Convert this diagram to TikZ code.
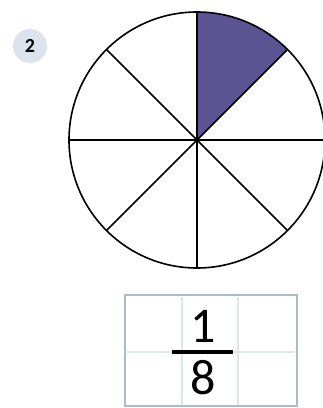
\documentclass[tikz,border=0pt]{standalone}
\usepackage{fontspec}
\setmainfont{Carlito}
\definecolor{sectorcol}{HTML}{5A5592}
\definecolor{badgecol}{HTML}{DCE3EE}
\definecolor{boxedge}{HTML}{A8BCCB}
\definecolor{gridl}{HTML}{DDE6EA}
\tikzset{
  spoke/.style={line width=1.6pt, black},
  rim/.style={line width=1.6pt, black},
  bigdigit/.style={inner sep=0pt, font=\fontsize{50}{50}\selectfont},
}
\begin{document}
\begin{tikzpicture}[x=1pt,y=-1pt]
\useasboundingbox (0,0) rectangle (323,408);
% badge
\node[circle, fill=badgecol, minimum size=34pt, inner sep=0pt, font=\bfseries\fontsize{20}{20}\selectfont] (badge) at (30,46) {2};
% circle
\coordinate (c) at (197,140);
\fill[sectorcol] (c) -- ++(0,-128) arc[start angle=-90, end angle=-45, radius=128] -- cycle;
\foreach \a in {0,45,...,315}{
  \draw[spoke] (c) -- ++(\a:128);
}
\draw[rim] (c) circle[radius=128];
% box
\draw[gridl, line width=1.5pt] (182,297) -- (182,405) (238,297) -- (238,405) (127,352) -- (295,352);
\draw[boxedge, line width=2.2pt] (125,295) rectangle (297,406);
\node[bigdigit] (num) at (203,326) {1};
\node[bigdigit] (den) at (203,378) {8};
\draw[line width=4pt] (172,352) -- (233,352);
\end{tikzpicture}
\end{document}
